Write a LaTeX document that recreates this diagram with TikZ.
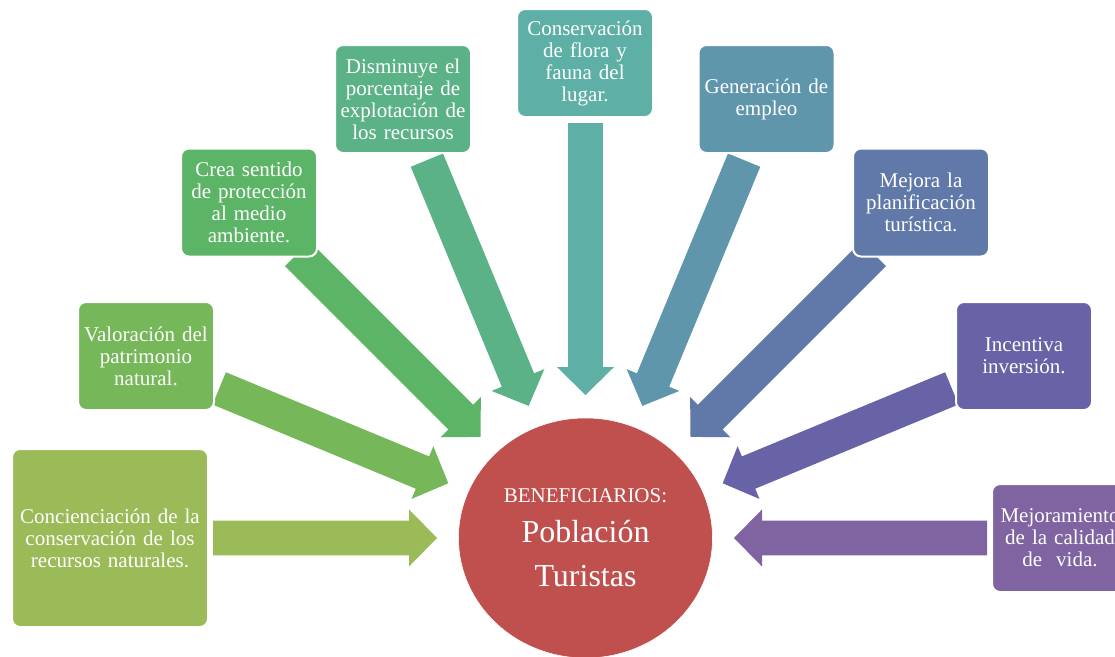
\documentclass[tikz,border=0pt]{standalone}
\usepackage{fontspec}
\setmainfont{Liberation Serif}
\usepackage{tikz}
\usetikzlibrary{calc,backgrounds,shapes.geometric}
\definecolor{Olive}{HTML}{9BBB59}
\definecolor{Leaf}{HTML}{76B75A}
\definecolor{Grass}{HTML}{5CB466}
\definecolor{Jade}{HTML}{5CB287}
\definecolor{Teal}{HTML}{5EAFA6}
\definecolor{Steel}{HTML}{5F96AC}
\definecolor{Denim}{HTML}{6179A9}
\definecolor{Indigo}{HTML}{6763A6}
\definecolor{Plum}{HTML}{8064A2}
\definecolor{Brick}{HTML}{C0504D}
% block arrow: tail, tip, colour
\newcommand{\blockarrow}[3]{%
  \coordinate (h) at ($(#2)!21pt!(#1)$);
  \fill[#3] ($(#1)!13.1pt!90:(#2)$) -- ($(h)!13.1pt!-90:(#1)$) -- ($(h)!21.4pt!-90:(#1)$)
    -- (#2) -- ($(h)!21.4pt!90:(#1)$) -- ($(h)!13.1pt!90:(#1)$) -- ($(#1)!13.1pt!-90:(#2)$) -- cycle;}

\begin{document}
\begin{tikzpicture}[x=0.75pt,y=-0.75pt,
  box/.style={draw=white,line width=1.5pt,rounded corners=6pt,minimum width=102pt,minimum height=81pt,text width=96pt,inner sep=0pt,align=center,text=white,font=\fontsize{15.75}{16.5}\selectfont},
  hub/.style={ellipse,draw=white,fill=Brick,minimum width=190.5pt,minimum height=180pt,inner sep=0pt,align=center,text=white,font=\fontsize{24}{33}\selectfont}
]
\useasboundingbox (0,0) rectangle (1115,657);
\node[box,fill=Olive,minimum width=147pt,minimum height=133.5pt,text width=140pt] (concien) at (110,538) {Concienciación de la\\conservación de los\\recursos naturales.};
\node[box,fill=Leaf] (valor) at (146,356) {Valoración del\\patrimonio\\natural.};
\node[box,fill=Grass] (crea) at (249,202.5) {Crea sentido\\de protección\\al medio\\ambiente.};
\node[box,fill=Jade] (dismin) at (403,99) {Disminuye el\\porcentaje de\\explotación de\\los recursos};
\node[box,fill=Teal] (flora) at (585,63) {Conservación\\de flora y\\fauna del\\lugar.};
\node[box,fill=Steel] (empleo) at (766.5,99) {Generación de\\empleo};
\node[box,fill=Denim] (planif) at (921,202.5) {Mejora la\\planificación\\turística.};
\node[box,fill=Indigo] (invers) at (1024,356) {Incentiva\\inversión.};
\node[box,fill=Plum] (calidad) at (1060,538) {Mejoramiento\\de la calidad\\de~ vida.};
\node[hub] (ben) at (585.5,538) {{\fontsize{15.75}{18}\selectfont BENEFICIARIOS:}\\[-3pt]Población\\Turistas};
\begin{scope}[on background layer]
\foreach \ang/\len/\col [count=\i] in {180/224/Olive,202.5/248/Leaf,225/259/Grass,247.5/266/Jade,270/272/Teal,292.5/266/Steel,315/259/Denim,337.5/248/Indigo,360/253/Plum}{
  \coordinate (tip\i) at ($(ben.center)+(\ang:148.5 and 143)$);
  \coordinate (tail\i) at ($(tip\i)+(\ang:\len)$);
  \blockarrow{tail\i}{tip\i}{\col}
}
\end{scope}
\end{tikzpicture}
\end{document}
